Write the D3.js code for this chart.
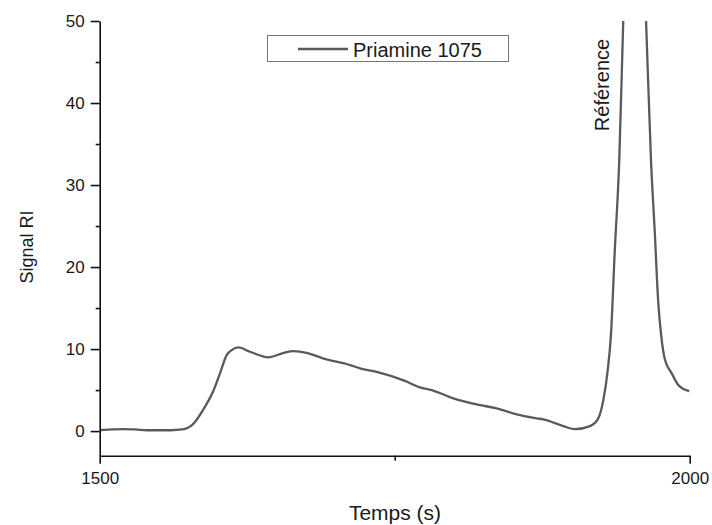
<!DOCTYPE html>
<html>
<head>
<meta charset="utf-8">
<script src="https://cdn.jsdelivr.net/npm/d3@7"></script>
<style>
  html, body { margin: 0; padding: 0; background: #fff; }
  svg { display: block; font-family: "Liberation Sans", Arial, sans-serif; }
</style>
</head>
<body>
<svg id="chart" width="712" height="525"></svg>
<script>
// ---- data ----
const seriesName = "Priamine 1075";
const timeValues = [1500, 1510, 1520, 1530, 1540, 1550, 1560, 1570, 1579.1, 1589.2, 1596.0, 1602.0, 1607.6, 1611.9, 1617.5, 1627.4, 1642.9, 1655.3, 1664.1, 1675.4, 1689.2, 1712.1, 1720.6, 1734.7, 1758.7, 1771.4, 1781.4, 1799.7, 1822.3, 1836.4, 1853.4, 1870.3, 1875.9, 1892.9, 1902.8, 1915.5, 1922.5, 1926.8, 1930.2, 1933.3, 1936.5, 1940.3, 1943.7, 1953, 1963.0, 1967.2, 1970.5, 1973.2, 1975.8, 1979.1, 1984.8, 1990.3, 1995.2, 1999.6];
const signalValues = [0.1, 0.2, 0.25, 0.2, 0.1, 0.1, 0.1, 0.2, 0.85, 2.96, 4.79, 7.07, 9.27, 9.88, 10.2, 9.67, 8.99, 9.51, 9.76, 9.55, 8.87, 8.05, 7.65, 7.23, 6.13, 5.33, 5.0, 3.99, 3.17, 2.77, 2.04, 1.55, 1.43, 0.61, 0.24, 0.61, 1.55, 3.78, 7.04, 11.8, 22.0, 33.0, 50.1, 90, 50.1, 33.0, 24.0, 16.0, 11.7, 8.66, 7.04, 5.61, 5.1, 4.88];
const xMajorTicks = [1500, 2000];
const xMinorTicks = [1750];
const yMajorTicks = [0, 10, 20, 30, 40, 50];
const yMinorTicks = [5, 15, 25, 35, 45];
const xLabel = "Temps (s)";
const yLabel = "Signal RI";
const annotation = "Référence";

// ---- layout ----
const svg = d3.select("#chart");
const mLeft = 99.7, mRight = 689.7, mTop = 21, mBottom = 455.7;
const x = d3.scaleLinear().domain([1500, 2000]).range([mLeft, mRight]);
const y = d3.scaleLinear().domain([-3, 50]).range([mBottom, mTop]);
const lineColor = "#5a5a5a";

svg.append("defs").append("clipPath").attr("id", "clip")
  .append("rect").attr("x", mLeft).attr("y", mTop).attr("width", mRight - mLeft + 2).attr("height", mBottom - mTop);

const data = timeValues.map((t, i) => ({ t, v: signalValues[i] }));

svg.append("path")
  .datum(data)
  .attr("clip-path", "url(#clip)")
  .attr("fill", "none")
  .attr("stroke", lineColor)
  .attr("stroke-width", 2.3)
  .attr("stroke-linejoin", "round")
  .attr("d", d3.line().x(d => x(d.t)).y(d => y(d.v)).curve(d3.curveMonotoneX));

// ---- axes ----
const xAxis = svg.append("g").attr("transform", `translate(0,${mBottom})`)
  .call(d3.axisBottom(x).tickValues(xMajorTicks).tickFormat(d3.format("d")).tickSize(8).tickSizeOuter(0));
const xMinor = svg.append("g").attr("transform", `translate(0,${mBottom})`)
  .call(d3.axisBottom(x).tickValues(xMinorTicks).tickFormat("").tickSize(5).tickSizeOuter(0));
xMinor.select(".domain").remove();

const yAxis = svg.append("g").attr("transform", `translate(${mLeft},0)`)
  .call(d3.axisLeft(y).tickValues(yMajorTicks).tickSize(9).tickSizeOuter(0).tickPadding(6));
const yMinor = svg.append("g").attr("transform", `translate(${mLeft},0)`)
  .call(d3.axisLeft(y).tickValues(yMinorTicks).tickFormat("").tickSize(4).tickSizeOuter(0));
yMinor.select(".domain").remove();

[xAxis, xMinor, yAxis, yMinor].forEach(g => {
  g.selectAll(".domain").attr("stroke", "#111").attr("stroke-width", 1.6);
  g.selectAll(".tick line").attr("stroke", "#111").attr("stroke-width", 1.6);
  g.selectAll(".tick text").attr("fill", "#1a1a1a").style("font-size", "17px")
   .style("font-family", "'Liberation Sans', Arial, sans-serif");
});
xAxis.selectAll(".tick text").attr("dy", null).attr("y", 28.5);

// ---- axis titles ----
svg.append("text").attr("x", 395).attr("y", 520).attr("text-anchor", "middle")
  .style("font-size", "21px").attr("fill", "#1a1a1a").text(xLabel);
svg.append("text").attr("transform", "translate(33,247) rotate(-90)").attr("text-anchor", "middle")
  .style("font-size", "18px").attr("fill", "#1a1a1a").text(yLabel);

// ---- annotation ----
svg.append("text").attr("transform", "translate(609,85) rotate(-90)").attr("text-anchor", "middle")
  .style("font-size", "20px").attr("fill", "#1a1a1a").text(annotation);

// ---- legend ----
const lg = svg.append("g");
lg.append("rect").attr("x", 267.5).attr("y", 35.5).attr("width", 241).attr("height", 26)
  .attr("fill", "#fff").attr("stroke", "#777").attr("stroke-width", 1);
lg.append("line").attr("x1", 298).attr("x2", 348).attr("y1", 49).attr("y2", 49)
  .attr("stroke", lineColor).attr("stroke-width", 2.3);
lg.append("text").attr("x", 353).attr("y", 56.5).style("font-size", "20px").attr("fill", "#1a1a1a").text(seriesName);
</script>
</body>
</html>
